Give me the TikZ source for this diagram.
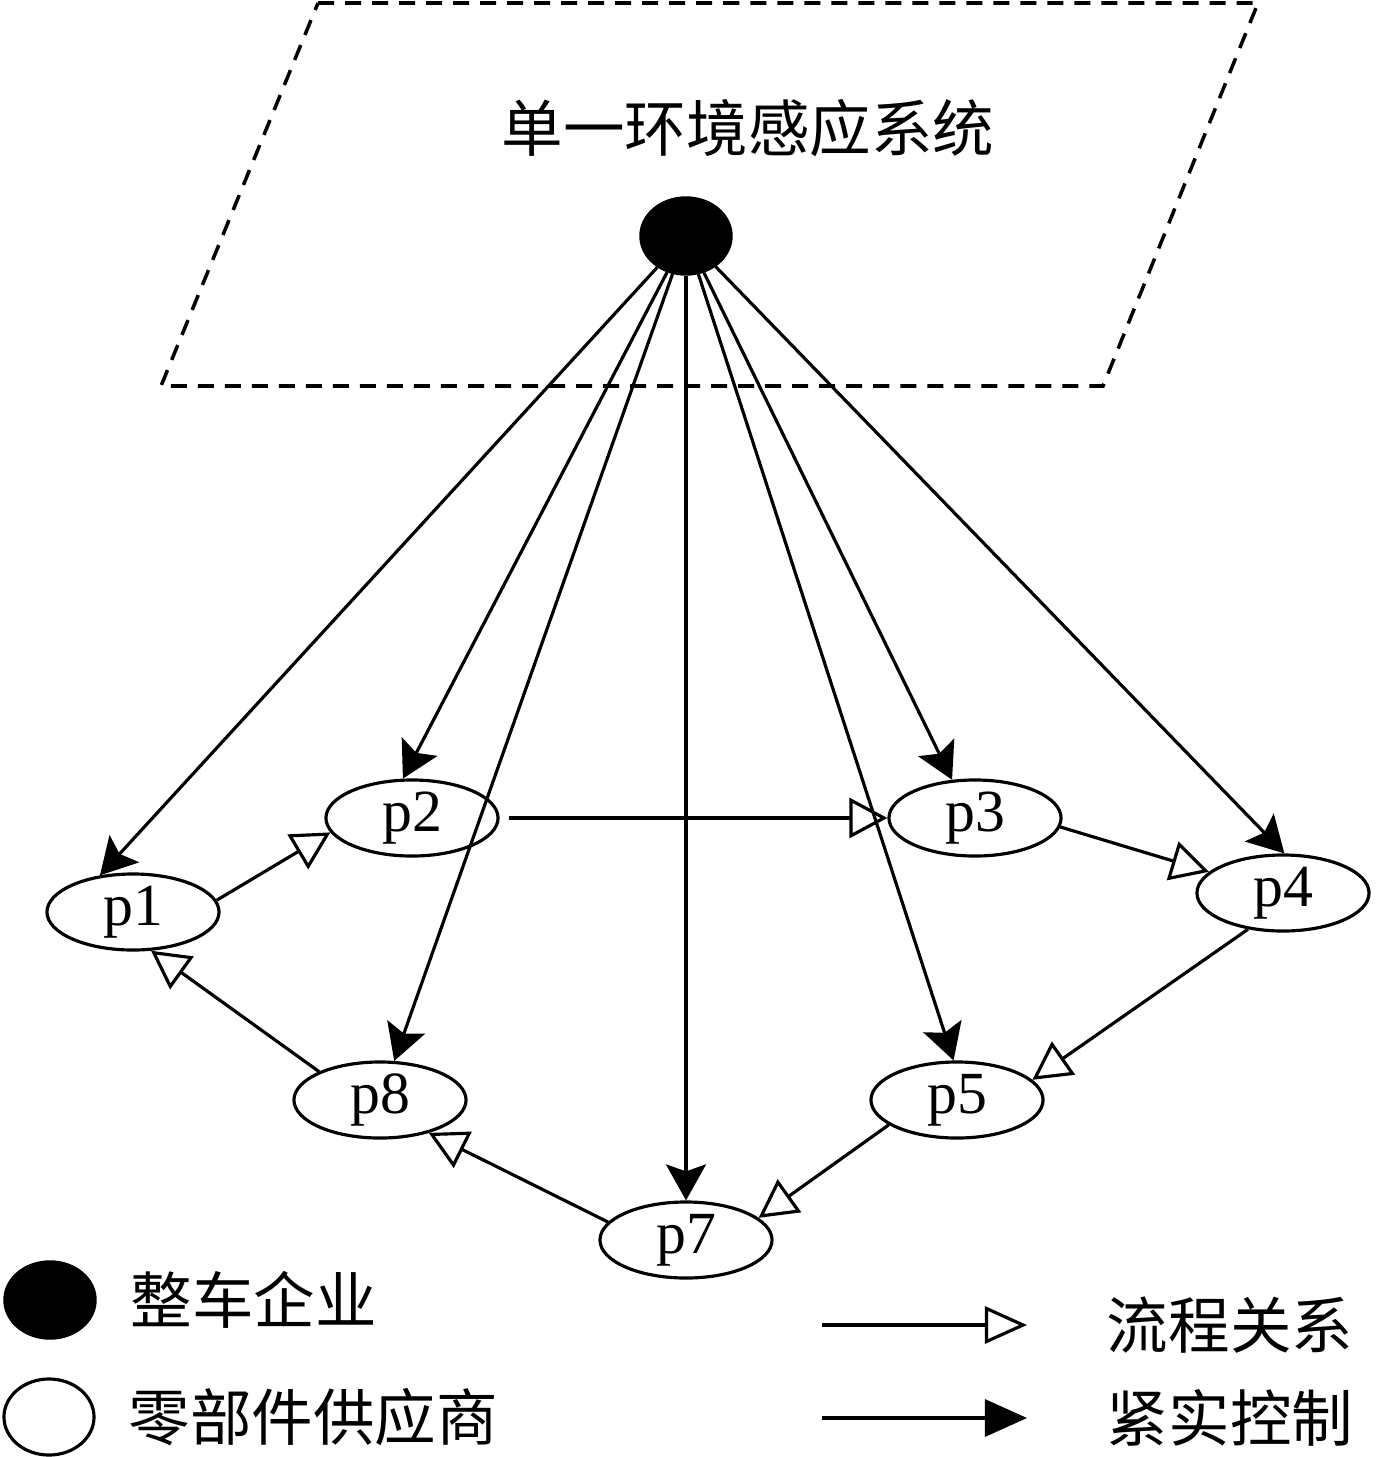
\documentclass[tikz,border=0pt]{standalone}
\usepackage{fontspec}
\setmainfont{Liberation Serif}
\newfontfamily\cjk{Noto Sans CJK SC}
\usetikzlibrary{arrows.meta,shapes.geometric}
\begin{document}
\begin{tikzpicture}[x=0.01cm,y=-0.01cm,
  pnode/.style={ellipse, draw, line width=0.9pt, minimum width=1.72cm, minimum height=0.76cm, inner sep=0pt, font=\fontsize{17}{18}\selectfont},
  hub/.style={ellipse, fill=black, draw=black, minimum width=0.92cm, minimum height=0.78cm, inner sep=0pt},
  legwhite/.style={ellipse, draw, line width=0.9pt, minimum width=0.9cm, minimum height=0.76cm, inner sep=0pt},
  ctrl/.style={-{Stealth[length=0.36cm,width=0.40cm,inset=0.07cm]}, line width=0.9pt},
  flow/.style={-{Triangle[open,length=0.38cm,width=0.40cm,line width=0.9pt]}, line width=0.9pt},
  cjktext/.style={font=\cjk\fontsize{17.5}{20}\selectfont, inner sep=0pt},
  zone/.style={dashed, dash pattern=on 0.16cm off 0.11cm, line width=1pt}
]
\useasboundingbox (0,0) rectangle (1378,1457);
% environment zone
\draw[zone] (318,3) -- (1258,3) -- (1103,386) -- (161,386) -- cycle;
\node[cjktext] (title) at (748,128) {单一环境感应系统};
% hub
\node[hub] (c) at (686,236) {};
% suppliers
\node[pnode] (p1) at (133,912) {p1};
\node[pnode] (p2) at (412,818) {p2};
\node[pnode] (p3) at (975,818) {p3};
\node[pnode] (p4) at (1283,893) {p4};
\node[pnode] (p5) at (957,1100) {p5};
\node[pnode] (p7) at (686,1240) {p7};
\node[pnode] (p8) at (380,1100) {p8};
% control edges
\draw[ctrl] (c) -- (p1.132);
\draw[ctrl] (c) -- (p2.103);
\draw[ctrl] (c) -- (p8.70);
\draw[ctrl] (c) -- (p7.90);
\draw[ctrl] (c) -- (p5.95);
\draw[ctrl] (c) -- (p3.121);
\draw[ctrl] (c) -- (p4.88);
% flow edges
\draw[flow] (p1.8) -- (p2.190);
\draw[flow, shorten <=0.09cm] (p2.east) -- (p3.west);
\draw[flow] (p3.354) -- (p4.164);
\draw[flow] (p4.226) -- (p5.15);
\draw[flow] (p5.200) -- (p7.17);
\draw[flow] (p7.167) -- (p8.326);
\draw[flow] (p8.155) -- (p1.295);
% legend
\node[hub] (lh) at (50,1300) {};
\node[legwhite] (ls) at (49,1417) {};
\node[cjktext, anchor=west] (lht) at (130,1300) {整车企业};
\node[cjktext, anchor=west] (lst) at (128,1417) {零部件供应商};
\coordinate (fa) at (822,1325);
\coordinate (fb) at (1027,1325);
\coordinate (ca) at (822,1418);
\coordinate (cb) at (1027,1418);
\draw[-{Triangle[open,length=0.42cm,width=0.37cm,line width=0.9pt]}, line width=0.9pt] (fa) -- (fb);
\draw[-{Triangle[length=0.42cm,width=0.37cm]}, line width=0.9pt] (ca) -- (cb);
\node[cjktext] (lft) at (1230,1325) {流程关系};
\node[cjktext] (lct) at (1230,1418) {紧实控制};
\end{tikzpicture}
\end{document}
